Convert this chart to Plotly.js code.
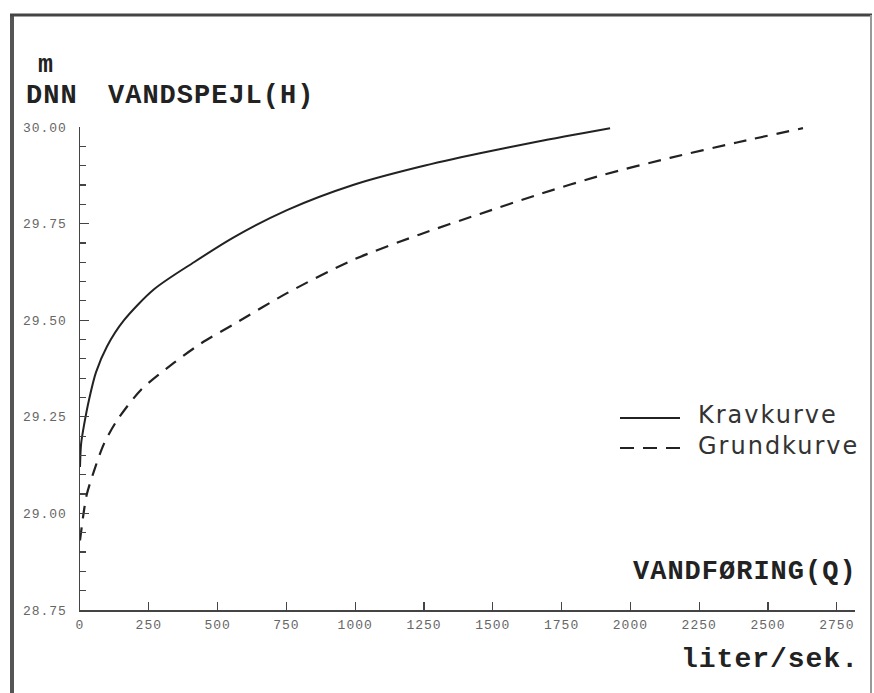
<!DOCTYPE html>
<html>
<head>
<meta charset="utf-8">
<script src="https://cdn.plot.ly/plotly-3.0.1.min.js"></script>
<style>
html,body{margin:0;padding:0;background:#fff;}
#chart{width:874px;height:693px;}
</style>
</head>
<body>
<div id="chart"></div>
<script>
// Data (Q in liter/sek., H in m DNN)
const kravQ = [0, 4, 15, 33, 58, 98, 160, 269, 414, 560, 752, 992, 1235, 1453, 1660, 1926];
const kravH = [29.12, 29.18, 29.23, 29.295, 29.365, 29.432, 29.50, 29.58, 29.65, 29.715, 29.785, 29.85, 29.897, 29.932, 29.962, 29.997];
const grundQ = [0, 15, 25, 51, 87, 134, 222, 342, 440, 560, 752, 992, 1235, 1453, 1660, 1900, 2144, 2387, 2627];
const grundH = [28.93, 29.01, 29.05, 29.11, 29.18, 29.24, 29.32, 29.39, 29.44, 29.49, 29.57, 29.656, 29.722, 29.775, 29.824, 29.876, 29.92, 29.96, 29.997];
const seriesNames = ["Kravkurve", "Grundkurve"];
const xTickVals = [0, 250, 500, 750, 1000, 1250, 1500, 1750, 2000, 2250, 2500, 2750];
const yTickVals = [28.75, 29.00, 29.25, 29.50, 29.75, 30.00];

const L = 80, R = 855, T = 127, B = 610;
const px = v => (v - L) / (R - L);
const py = v => (B - v) / (B - T);

const traces = [
  {x: kravQ, y: kravH, name: seriesNames[0], mode: "lines", showlegend: false,
   line: {color: "#222", width: 2, shape: "spline", smoothing: 0.8}},
  {x: grundQ, y: grundH, name: seriesNames[1], mode: "lines", showlegend: false,
   line: {color: "#222", width: 2.2, dash: "13px,9px", shape: "spline", smoothing: 0.8}}
];

const monoBold = {family: "Liberation Mono", size: 27, color: "#222", weight: "bold"};
const legendFont = {family: "DejaVu Sans", size: 24, color: "#333"};
const annotations = [
  {text: "m", x: px(37), y: py(66), font: {family: "Liberation Mono", size: 25, color: "#222", weight: "bold"}},
  {text: "DNN", x: px(25), y: py(96), font: monoBold},
  {text: "VANDSPEJL(H)", x: px(107), y: py(96), font: monoBold},
  {text: "VANDFØRING(Q)", x: px(632), y: py(572), font: monoBold},
  {text: "liter/sek.", x: px(680), y: py(659), font: {family: "Liberation Mono", size: 28, color: "#222", weight: "bold"}},
  {text: seriesNames[0], x: px(697), y: py(415), font: legendFont, legend: true},
  {text: seriesNames[1], x: px(697), y: py(446), font: legendFont, legend: true}
].map(a => Object.assign({xref: "paper", yref: "paper", showarrow: false, xanchor: "left", yanchor: "middle", align: "left", borderpad: 0}, a));
const legendIdx = annotations.map((a, i) => a.legend ? i : -1).filter(i => i >= 0);
annotations.forEach(a => delete a.legend);

const shapes = [
  {type: "line", xref: "paper", yref: "paper", x0: px(12), x1: px(12), y0: py(700), y1: py(14), line: {color: "#555", width: 4}},
  {type: "line", xref: "paper", yref: "paper", x0: px(10), x1: px(872), y0: py(15), y1: py(15), line: {color: "#444", width: 3}},
  {type: "line", xref: "paper", yref: "paper", x0: px(871), x1: px(871), y0: py(15), y1: py(700), line: {color: "#999", width: 2}},
  // legend keys
  {type: "line", xref: "paper", yref: "paper", x0: px(620), x1: px(680), y0: py(418), y1: py(418), line: {color: "#222", width: 2}},
  {type: "line", xref: "paper", yref: "paper", x0: px(620), x1: px(680), y0: py(448), y1: py(448), line: {color: "#222", width: 2.2, dash: "14px,9px"}}
];

const tickFont = {family: "Liberation Mono", size: 13, color: "#666"};

const layout = {
  width: 874, height: 693,
  margin: {l: L, r: 874 - R, t: T, b: 693 - B, pad: 0},
  paper_bgcolor: "#fff", plot_bgcolor: "#fff",
  showlegend: false,
  xaxis: {range: [0, 2816], showgrid: false, zeroline: false, showline: true, linecolor: "#444", linewidth: 1.5,
          ticks: "inside", ticklen: 8, tickcolor: "#444", tickwidth: 1.2,
          tickvals: xTickVals, ticktext: xTickVals.map(String), tickfont: tickFont, ticklabelstandoff: 2},
  yaxis: {range: [28.75, 30.0], showgrid: false, zeroline: false, showline: true, linecolor: "#444", linewidth: 1.5,
          ticks: "inside", ticklen: 9, tickcolor: "#444", tickwidth: 1.2,
          tickvals: yTickVals, ticktext: yTickVals.map(v => v.toFixed(2)), tickfont: tickFont, ticklabelstandoff: 9,
          minor: {dtick: 0.05, tick0: 28.75, ticks: "inside", ticklen: 6, tickcolor: "#444", tickwidth: 1.2, showgrid: false}},
  annotations: annotations,
  shapes: shapes
};

Plotly.newPlot("chart", traces, layout, {displayModeBar: false, staticPlot: true}).then(function () {
  document.querySelectorAll("g.annotation").forEach(function (g) {
    var idx = +g.getAttribute("data-index");
    var t = g.querySelector(".annotation-text");
    if (t) t.style.letterSpacing = legendIdx.indexOf(idx) >= 0 ? "2px" : "1px";
  });
  document.querySelectorAll(".xtick text, .ytick text").forEach(function (t) { t.style.letterSpacing = "1px"; });
});
</script>
</body>
</html>
